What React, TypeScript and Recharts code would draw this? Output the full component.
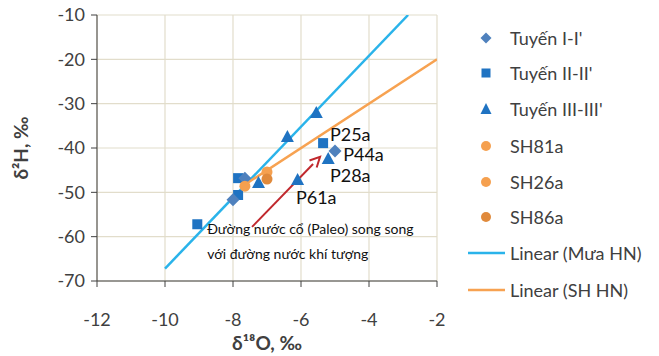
import React from 'react';
import {
  ScatterChart, Scatter, XAxis, YAxis, CartesianGrid, ReferenceLine, Legend, ZAxis,
} from 'recharts';

const xTicks = [-12, -10, -8, -6, -4, -2];
const yTicks = [-70, -60, -50, -40, -30, -20, -10];

const tuyen1 = [
  { x: -5.0, y: -40.7 },
  { x: -7.65, y: -46.8 },
  { x: -8.0, y: -51.7 },
];
const tuyen2 = [
  { x: -5.35, y: -38.9 },
  { x: -7.85, y: -46.8 },
  { x: -7.85, y: -50.6 },
  { x: -9.05, y: -57.2 },
];
const tuyen3 = [
  { x: -5.55, y: -32.1 },
  { x: -6.4, y: -37.5 },
  { x: -5.2, y: -42.5 },
  { x: -6.1, y: -47.2 },
  { x: -7.25, y: -47.9 },
];
const sh81a = [{ x: -7.0, y: -45.4 }];
const sh26a = [{ x: -7.65, y: -48.6 }];
const sh86a = [{ x: -7.0, y: -47.0 }];
const lineMua = [{ x: -10, y: -67.2 }, { x: -2.85, y: -10 }];
const lineSH = [{ x: -7.6, y: -48 }, { x: -2, y: -20 }];
const arrow = [{ x: -7.44, y: -57.8 }, { x: -5.44, y: -42.0 }];
const pointLabels = [
  { x: -5.15, y: -37.1, text: 'P25a' },
  { x: -4.76, y: -41.6, text: 'P44a' },
  { x: -5.15, y: -46.3, text: 'P28a' },
  { x: -6.15, y: -51.1, text: 'P61a' },
];
const noteLabels = [
  { x: -8.76, y: -58.3, text: 'Đường nước cổ (Paleo) song song' },
  { x: -8.76, y: -63.9, text: 'với đường nước khí tượng' },
];

const legendItems = [
  { name: "Tuyến I-I'", kind: 'diamond', color: '#4f81bd' },
  { name: "Tuyến II-II'", kind: 'square', color: '#1f73c2' },
  { name: "Tuyến III-III'", kind: 'triangle', color: '#1f73c2' },
  { name: 'SH81a', kind: 'circle', color: '#f5a04f' },
  { name: 'SH26a', kind: 'circle', color: '#f5a04f' },
  { name: 'SH86a', kind: 'circle', color: '#e08a3c' },
  { name: 'Linear (Mưa HN)', kind: 'line', color: '#2ab3ea' },
  { name: 'Linear (SH HN)', kind: 'line', color: '#f7a251' },
];

const FONT = 'Lato, "Open Sans", sans-serif';
const TXT = '#404040';

const Diamond = (p: any) => {
  const { cx, cy, fill } = p;
  const r = 6.5;
  return <polygon points={`${cx},${cy - r} ${cx + r},${cy} ${cx},${cy + r} ${cx - r},${cy}`} fill={fill} />;
};
const Square = (p: any) => {
  const { cx, cy, fill } = p;
  const r = 5;
  return <rect x={cx - r} y={cy - r} width={2 * r} height={2 * r} fill={fill} />;
};
const Triangle = (p: any) => {
  const { cx, cy, fill } = p;
  return <polygon points={`${cx},${cy - 7} ${cx + 6.5},${cy + 5} ${cx - 6.5},${cy + 5}`} fill={fill} />;
};
const Circle = (p: any) => {
  const { cx, cy, fill } = p;
  return <circle cx={cx} cy={cy} r={5.5} fill={fill} />;
};
const NoShape = () => <g />;

const TextShape = (size: number) => (p: any) => (
  <text x={p.cx} y={p.cy} dy="0.35em" fontSize={size} fill="#111" fontFamily={FONT}>
    {p.payload.text}
  </text>
);

const ArrowShape = (p: any) => {
  const { x1, y1, x2, y2 } = p;
  if (x1 == null) return <g />;
  const ang = Math.atan2(y2 - y1, x2 - x1);
  const L = 10, W = 5;
  const bx = x2 - L * Math.cos(ang), by = y2 - L * Math.sin(ang);
  const nx = -Math.sin(ang), ny = Math.cos(ang);
  return (
    <g>
      <line x1={x1} y1={y1} x2={bx} y2={by} stroke="#c0282d" strokeWidth={2} />
      <polyline
        points={`${bx + nx * W},${by + ny * W} ${x2},${y2} ${bx - nx * W},${by - ny * W}`}
        fill="none" stroke="#c0282d" strokeWidth={2}
      />
    </g>
  );
};

const XTick = (p: any) => (
  <text x={p.x} y={p.y + 37} textAnchor="middle" fontSize={18} fill={TXT} fontFamily={FONT}>
    {p.payload.value}
  </text>
);
const YTick = (p: any) => (
  <text x={p.x - 4} y={p.y} dy="0.35em" textAnchor="end" fontSize={18} fill={TXT} fontFamily={FONT}>
    {p.payload.value}
  </text>
);

const LegendContent = () => (
  <div style={{ position: 'absolute', left: 0, top: 0 }}>
    {legendItems.map((it, i) => {
      const top = [38, 73, 109, 146, 182, 217, 253, 290][i];
      let mark: React.ReactNode;
      if (it.kind === 'line') mark = <line x1={2} y1={10} x2={39} y2={10} stroke={it.color} strokeWidth={2.5} />;
      else if (it.kind === 'diamond') mark = <polygon points="20,4.5 25.5,10 20,15.5 14.5,10" fill={it.color} />;
      else if (it.kind === 'square') mark = <rect x={15.5} y={5.5} width={9} height={9} fill={it.color} />;
      else if (it.kind === 'triangle') mark = <polygon points="20,4 25.5,15 14.5,15" fill={it.color} />;
      else mark = <circle cx={20} cy={10} r={5} fill={it.color} />;
      return (
        <div key={it.name} style={{ position: 'absolute', left: 466, top: top - 10, height: 20, display: 'flex', alignItems: 'center', whiteSpace: 'nowrap' }}>
          <svg width={42} height={20}>{mark}</svg>
          <span style={{ fontFamily: FONT, fontSize: 18, color: TXT, marginLeft: 2 }}>{it.name}</span>
        </div>
      );
    })}
  </div>
);

export default function App() {
  return (
    <div style={{ position: 'absolute', left: 0, top: 0, width: 659, height: 356, background: '#fff' }}>
      <ScatterChart width={659} height={356} margin={{ top: 15, right: 222, bottom: 30, left: 37 }}>
        <CartesianGrid stroke="#e2ddcb" strokeWidth={1.2} />
        <XAxis
          type="number" dataKey="x" domain={[-12, -2]} ticks={xTicks} allowDataOverflow
          stroke="#404040" tickSize={6} tick={XTick} height={45}
          label={{ value: 'δ¹⁸O, ‰', position: 'insideBottom', offset: -24, style: { fontWeight: 700, fontSize: 19, fill: TXT, fontFamily: FONT } }}
        />
        <YAxis
          type="number" dataKey="y" domain={[-70, -10]} ticks={yTicks} allowDataOverflow
          stroke="#404040" tickSize={6} tick={YTick} width={60}
          label={{ value: 'δ²H, ‰', angle: -90, position: 'insideLeft', offset: -16, style: { fontWeight: 700, fontSize: 19, fill: TXT, fontFamily: FONT, textAnchor: 'middle' } }}
        />
        <ZAxis range={[100, 100]} />
        <Legend content={LegendContent} wrapperStyle={{ position: 'absolute', left: 0, top: 0, width: 0, height: 0 }} />
        <Scatter data={lineMua} fill="#2ab3ea" line={{ stroke: '#2ab3ea', strokeWidth: 2.5 }} shape={NoShape} isAnimationActive={false} />
        <Scatter data={lineSH} fill="#f7a251" line={{ stroke: '#f7a251', strokeWidth: 2.5 }} shape={NoShape} isAnimationActive={false} />
        <Scatter data={tuyen2} fill="#1f73c2" shape={Square} isAnimationActive={false} />
        <Scatter data={tuyen3} fill="#1f73c2" shape={Triangle} isAnimationActive={false} />
        <Scatter data={tuyen1} fill="#4f81bd" shape={Diamond} isAnimationActive={false} />
        <Scatter data={sh81a} fill="#f5a04f" shape={Circle} isAnimationActive={false} />
        <Scatter data={sh26a} fill="#f5a04f" shape={Circle} isAnimationActive={false} />
        <Scatter data={sh86a} fill="#e08a3c" shape={Circle} isAnimationActive={false} />
        <ReferenceLine segment={arrow} shape={ArrowShape} />
        <Scatter data={pointLabels} shape={TextShape(18)} isAnimationActive={false} />
        <Scatter data={noteLabels} shape={TextShape(14)} isAnimationActive={false} />
      </ScatterChart>
    </div>
  );
}
